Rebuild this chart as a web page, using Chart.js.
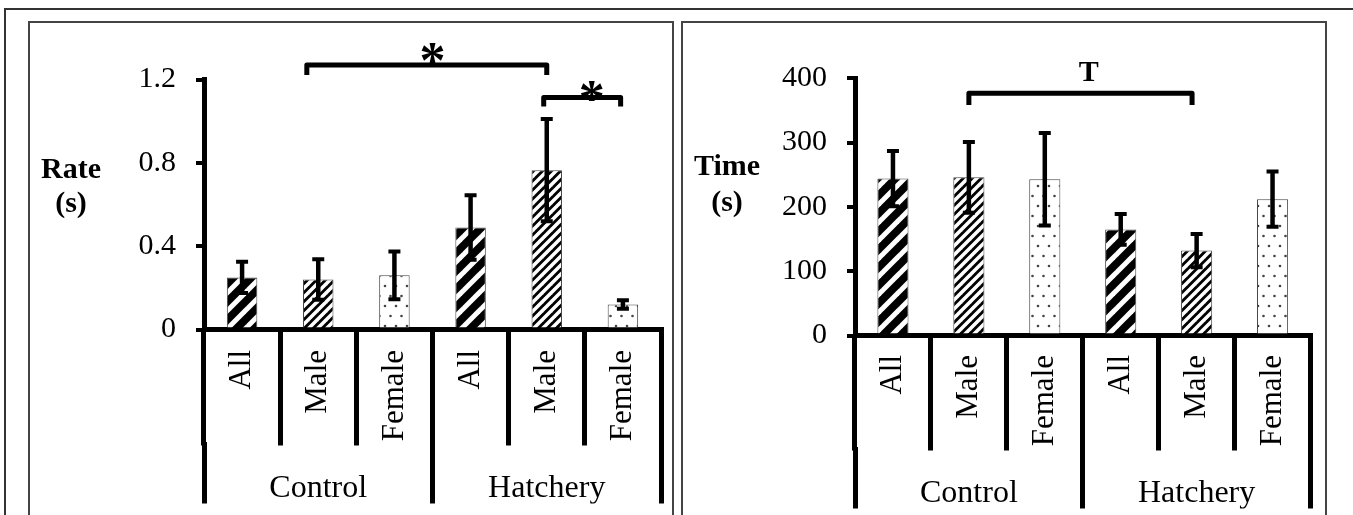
<!DOCTYPE html>
<html>
<head>
<meta charset="utf-8">
<script src="https://cdn.jsdelivr.net/npm/chart.js@4.4.0/dist/chart.umd.min.js"></script>
<style>
  html, body { margin: 0; padding: 0; background: #fff; overflow: hidden; }
  body { width: 1353px; height: 515px; position: relative; }
  .frame { position: absolute; left: 4px; top: 8px; width: 1400px; height: 600px;
           border-top: 2px solid #333; border-left: 2px solid #333; }
  .box { position: absolute; top: 21px; height: 600px; border: 2px solid #444; }
  canvas { position: absolute; }
</style>
</head>
<body>
<div class="frame"></div>
<div class="box" style="left:28px;width:642px"></div>
<div class="box" style="left:681px;width:642px"></div>
<canvas id="rate" width="643" height="493" style="left:30px;top:22px"></canvas>
<canvas id="time" width="643" height="493" style="left:683px;top:22px"></canvas>
<script>
// categories
const subgroups = ['All', 'Male', 'Female', 'All', 'Male', 'Female'];
const groups = ['Control', 'Hatchery'];

// rate panel
const rateValues = [0.25, 0.24, 0.26, 0.49, 0.765, 0.12];
const rateErrors = [0.075, 0.097, 0.115, 0.155, 0.245, 0.02];
const rateTicks = [0, 0.4, 0.8, 1.2];

// time panel
const timeValues = [244, 246, 243, 165, 132, 212];
const timeErrors = [43, 55, 72, 24, 26, 43];
const timeTicks = [0, 100, 200, 300, 400];

// significance brackets (category index / axis value)
const rateBrackets = [
  { from: 0.85, to: 4.0, top: 1.27, foot: 1.222, text: '*', at: 2.5, textY: 1.328 },
  { from: 3.96, to: 4.97, top: 1.114, foot: 1.07, text: '*', at: 4.59, textY: 1.146 }
];
const timeBrackets = [
  { from: 1.0, to: 3.94, top: 376.7, foot: 358.5, text: 'T', at: 2.58, textY: 410 }
];

Chart.defaults.font.family = "'Liberation Serif', 'Times New Roman', serif";
Chart.defaults.color = '#000';

// fill patterns
function stripes(size, white) {
  const c = document.createElement('canvas');
  c.width = c.height = size;
  const g = c.getContext('2d');
  g.fillStyle = '#000';
  g.fillRect(0, 0, size, size);
  g.strokeStyle = '#fff';
  g.lineWidth = white;
  for (const o of [-size, 0, size]) {
    g.beginPath();
    g.moveTo(o - size, 2 * size);
    g.lineTo(o + 2 * size, -size);
    g.stroke();
  }
  return g.createPattern(c, 'repeat');
}

function dots() {
  const c = document.createElement('canvas');
  c.width = 11; c.height = 20;
  const g = c.getContext('2d');
  g.fillStyle = '#fff';
  g.fillRect(0, 0, 11, 20);
  g.fillStyle = '#444';
  g.beginPath(); g.arc(3, 4, 1.3, 0, Math.PI * 2); g.fill();
  g.beginPath(); g.arc(8.5, 14, 1.3, 0, Math.PI * 2); g.fill();
  return g.createPattern(c, 'repeat');
}

const wide = stripes(18, 5);
const narrow = stripes(9, 3.5);
const dotted = dots();
const fills = [wide, narrow, dotted, wide, narrow, dotted];

// error bars on top of each bar
const errorBars = {
  id: 'errorBars',
  afterDatasetsDraw(chart, args, opts) {
    const { ctx } = chart;
    const y = chart.scales.y;
    const data = chart.data.datasets[0].data;
    ctx.save();
    ctx.strokeStyle = '#000';
    chart.getDatasetMeta(0).data.forEach((bar, i) => {
      const top = y.getPixelForValue(data[i] + opts.errors[i]);
      const bot = y.getPixelForValue(data[i] - opts.errors[i]);
      ctx.lineWidth = 4.5;
      ctx.beginPath(); ctx.moveTo(bar.x, top); ctx.lineTo(bar.x, bot); ctx.stroke();
      ctx.lineWidth = 4;
      ctx.beginPath();
      ctx.moveTo(bar.x - 6, top); ctx.lineTo(bar.x + 6, top);
      ctx.moveTo(bar.x - 6, bot); ctx.lineTo(bar.x + 6, bot);
      ctx.stroke();
    });
    ctx.restore();
  }
};

// brackets, their labels and the horizontal y title
const notes = {
  id: 'notes',
  afterDraw(chart, args, opts) {
    const { ctx } = chart;
    const x = chart.scales.x, y = chart.scales.y;
    ctx.save();
    ctx.strokeStyle = '#000';
    ctx.fillStyle = '#000';
    ctx.lineWidth = 5;
    ctx.lineJoin = 'round';
    opts.brackets.forEach(b => {
      const x1 = x.getPixelForValue(b.from), x2 = x.getPixelForValue(b.to);
      const yt = y.getPixelForValue(b.top), yf = y.getPixelForValue(b.foot);
      ctx.beginPath();
      ctx.moveTo(x1, yf); ctx.lineTo(x1, yt); ctx.lineTo(x2, yt); ctx.lineTo(x2, yf);
      ctx.stroke();
      ctx.font = b.text === '*' ? 'bold 52px "Liberation Serif"' : 'bold 30px "Liberation Serif"';
      const m = ctx.measureText(b.text);
      const cx = x.getPixelForValue(b.at), cy = y.getPixelForValue(b.textY);
      ctx.textAlign = 'left';
      ctx.textBaseline = 'alphabetic';
      ctx.fillText(b.text,
        cx - (m.actualBoundingBoxRight - m.actualBoundingBoxLeft) / 2,
        cy + (m.actualBoundingBoxAscent - m.actualBoundingBoxDescent) / 2);
    });
    ctx.font = 'bold 30px "Liberation Serif"';
    ctx.textAlign = 'center';
    ctx.textBaseline = 'alphabetic';
    opts.title.lines.forEach((t, i) => ctx.fillText(t, opts.title.x, opts.title.y[i]));
    ctx.restore();
  }
};

function makeChart(id, values, errors, ticks, brackets, title, geo) {
  return new Chart(document.getElementById(id), {
    type: 'bar',
    data: {
      labels: subgroups,
      datasets: [{
        data: values,
        backgroundColor: fills,
        borderColor: '#444',
        borderWidth: 1,
        categoryPercentage: 1,
        barPercentage: geo.bar
      }]
    },
    options: {
      responsive: false,
      animation: false,
      events: [],
      layout: { padding: geo.padding },
      plugins: {
        legend: { display: false },
        tooltip: { enabled: false },
        errorBars: { errors: errors },
        notes: { brackets: brackets, title: title }
      },
      scales: {
        x: {
          type: 'category',
          offset: true,
          z: 1,
          grid: { offset: true, drawOnChartArea: false, tickLength: geo.subTick, lineWidth: 5, color: '#000' },
          border: { display: true, width: 5, color: '#000' },
          ticks: { autoSkip: false, minRotation: 90, maxRotation: 90, padding: geo.subPad, font: { size: 31 } },
          // group axis starts a few px higher so its separators overlap these
          afterFit: s => { s.height = geo.subTick - 4; }
        },
        grp: {
          type: 'category',
          position: 'bottom',
          labels: groups,
          offset: true,
          weight: 1,
          grid: { offset: true, drawOnChartArea: false, tickLength: 62, lineWidth: 5, color: '#000' },
          border: { display: false },
          ticks: { autoSkip: false, maxRotation: 0, padding: geo.grpPad, font: { size: 32 } },
          afterFit: s => { s.height = 62; }
        },
        y: {
          min: ticks[0],
          max: ticks[ticks.length - 1],
          grid: { drawOnChartArea: false, tickLength: 8, lineWidth: 4, color: '#000' },
          border: { display: true, width: 5, color: '#000' },
          ticks: { padding: 20, font: { size: 30 }, callback: v => String(v) },
          afterBuildTicks: s => { s.ticks = ticks.map(v => ({ value: v })); },
          afterFit: s => { s.width = 80; }
        }
      }
    },
    plugins: [errorBars, notes]
  });
}

makeChart('rate', rateValues, rateErrors, rateTicks, rateBrackets,
  { lines: ['Rate', '(s)'], x: 41, y: [156, 190] },
  { bar: 0.4, subTick: 116, subPad: -95.5, grpPad: -34,
    padding: { left: 94, right: 12, top: 57.5, bottom: 11.5 } });

makeChart('time', timeValues, timeErrors, timeTicks, timeBrackets,
  { lines: ['Time', '(s)'], x: 44, y: [153, 189] },
  { bar: 0.41, subTick: 115, subPad: -95.5, grpPad: -34,
    padding: { left: 92, right: 15.5, top: 56.3, bottom: 6.5 } });
</script>
</body>
</html>
